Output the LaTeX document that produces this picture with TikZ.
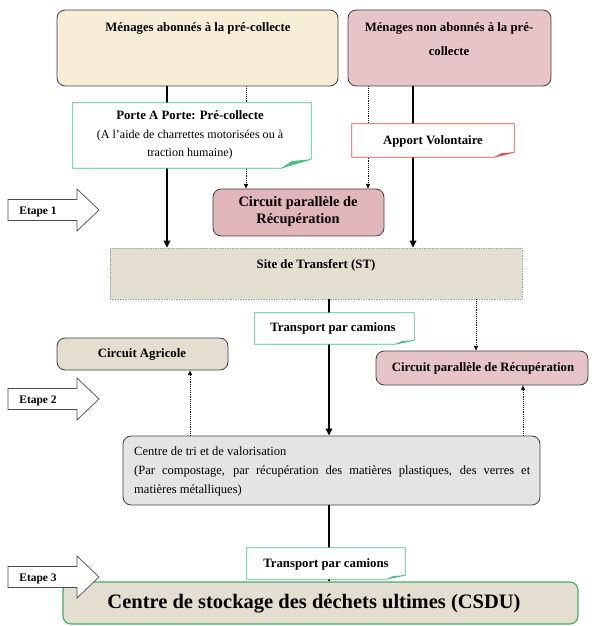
\documentclass[tikz,border=0pt]{standalone}
\usepackage{fontspec}
\setmainfont{Liberation Serif}
\usetikzlibrary{arrows.meta, positioning, fit, calc}
\definecolor{parchment}{RGB}{248, 237, 214}
\definecolor{rosefill}{RGB}{231, 196, 199}
\definecolor{rosedark}{RGB}{224, 182, 186}
\definecolor{sandfill}{RGB}{228, 222, 209}
\definecolor{marble}{RGB}{228, 228, 228}
\definecolor{notegreen}{RGB}{80, 190, 130}
\definecolor{notered}{RGB}{225, 80, 75}
\definecolor{csdugreen}{RGB}{70, 175, 100}

\begin{document}
\begin{tikzpicture}[x=0.03cm, y=-0.03cm,
    every node/.style={font=\bfseries\fontsize{10.9}{12}\selectfont},
    box/.style={draw=black!75, line width=0.7pt, rounded corners=7pt, inner sep=0pt},
    flow/.style={line width=2pt, -{Triangle[length=6pt, width=5.5pt]}},
    side/.style={line width=0.6pt, densely dotted, -{Triangle[length=4pt, width=3.5pt]}}]
    \useasboundingbox (0,0) rectangle (593,626);
    % households
    \node[box, fill=parchment, fit={(57,10) (338,86)}] (menA) {};
    \node[box, fill=rosefill, fit={(348,10) (551,86)}] (menB) {};
    \node (menAtxt) at (198,28) {Ménages abonnés à la pré-collecte};
    \node[align=center, font=\bfseries\fontsize{10.9}{20.4}\selectfont] (menBtxt) at (449,39)
        {Ménages non abonnés à la pré-\\collecte};
    % step 1
    \node[inner sep=0pt, fit={(73,103) (311,168)}] (porte) {};
    \node[inner sep=0pt, fit={(352,124) (514,157)}] (apport) {};
    \node[box, fill=rosedark, fit={(213,189) (384,236)}] (circA) {};
    \node[align=center, font=\bfseries\fontsize{12.3}{14.5}\selectfont] (circAtxt) at (298,212)
        {Circuit parallèle de\\Récupération};
    \node[draw=notegreen!70!black!60, densely dotted, inner sep=0pt, fill=sandfill, fit={(110,248) (522,299)}] (st) {};
    \node (sttxt) at (316,265) {Site de Transfert (ST)};
    % step 2
    \node[inner sep=0pt, fit={(255,313) (414,344)}] (transA) {};
    \node[box, fill=sandfill, fit={(57,338) (228,370)}] (agri) {};
    \node (agritxt) at (142,354) {Circuit Agricole};
    \node[box, fill=rosefill, fit={(376,351) (588,385)}] (circB) {};
    \node (circBtxt) at (483,368) {Circuit parallèle de Récupération};
    \node[box, fill=marble, fit={(123,436) (540,505)}] (tri) {};
    \node[anchor=north west, text width=11.88cm, align=justify, inner sep=0pt,
        font=\fontsize{10.7}{16}\selectfont] (tritxt) at (134,447)
        {Centre de tri et de valorisation\\(Par compostage, par récupération des matières plastiques, des verres et\linebreak matières métalliques)};
    % step 3
    \node[inner sep=0pt, fit={(247,548) (405,579)}] (transB) {};
    \node[box, draw=csdugreen, line width=1pt, fill=sandfill, fit={(63,582) (578,624)}] (csdu) {};
    \node[font=\bfseries\fontsize{17.5}{20}\selectfont] (csdutxt) at (314,604)
        {Centre de stockage des déchets ultimes (CSDU)};

    % flows
    \draw[flow] (167,0 |- menA.south) -- (167,0 |- st.north);
    \draw[flow] (413,0 |- menB.south) -- (413,0 |- st.north);
    \draw[side] (246,0 |- menA.south) -- (246,0 |- circA.north);
    \draw[side] (368,0 |- menB.south) -- (368,0 |- circA.north);
    \draw[flow] (329,0 |- st.south) -- (329,0 |- tri.north);
    \draw[side] (476,0 |- st.south) -- (476,0 |- circB.north);
    \draw[side] (190,0 |- tri.north) -- (190,0 |- agri.south);
    \draw[side] (523,0 |- tri.north) -- (523,0 |- circB.south);
    \draw[line width=2pt] (329,0 |- tri.south) -- (329,0 |- csdu.north);

    % folded notes
    \foreach \n/\c/\dx/\dy in {porte/notegreen/30/9, apport/notered/20/5, transA/notegreen/19/4, transB/notegreen/19/4}{
        \draw[\c, line width=0.6pt, fill=white] (\n.north west) -- (\n.north east)
            -- ($(\n.south east)+(0,-\dy)$) -- ($(\n.south east)+(-\dx,0)$) -- (\n.south west) -- cycle;
        \fill[\c] ($(\n.south east)+(0,-\dy)$) -- ($(\n.south east)+(-\dx,0)$)
            -- ($(\n.south east)+(-0.65*\dx,-0.8*\dy)$) -- cycle;
    }
    \node[align=center, font=\fontsize{10.3}{16}\selectfont] (portetxt) at (190,135)
        {\textbf{\fontsize{10.9}{16}\selectfont Porte A Porte: Pré-collecte}\\(A l’aide de charrettes motorisées ou à\\traction humaine)};
    \node (apporttxt) at (433,141) {Apport Volontaire};
    \node (transAtxt) at (333,328) {Transport par camions};
    \node (transBtxt) at (326,564) {Transport par camions};

    % steps
    \foreach \y/\k in {210/1, 399/2, 577/3}{
        \draw[black!70, line width=0.6pt, fill=white] (8,\y-10.5) -- (77,\y-10.5) -- (77,\y-21)
            -- (99,\y) -- (77,\y+21) -- (77,\y+10.5) -- (8,\y+10.5) -- cycle;
        \node[font=\bfseries\fontsize{9.8}{11}\selectfont] (etape\k) at (38,\y+2) {Etape \k};
    }
\end{tikzpicture}
\end{document}
